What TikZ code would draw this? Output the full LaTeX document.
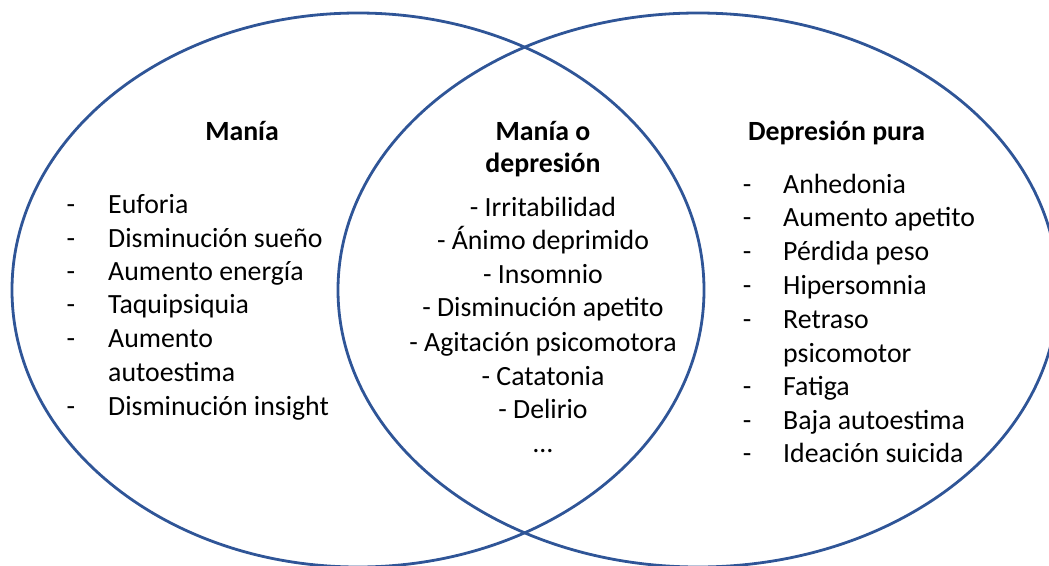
\documentclass[tikz,border=0pt]{standalone}
\usepackage{fontspec}
\setmainfont{Carlito}
\usetikzlibrary{shapes.geometric}
\definecolor{vennblue}{RGB}{47,85,151}
\begin{document}
\begin{tikzpicture}[x=1pt,y=-1pt,
  venn/.style={ellipse, draw=vennblue, line width=2.8pt, inner sep=0pt, outer sep=0pt,
    minimum width=692pt, minimum height=554pt},
  txt/.style={font=\fontsize{27.8}{33}\selectfont, inner sep=0pt, text=black},
  ttl/.style={font=\fontsize{27.8}{33}\selectfont\bfseries, inner sep=0pt, text=black},
  itemL/.style={txt, anchor=base west},
  itemC/.style={txt, anchor=base},
  dsh/.style={txt, anchor=base}]
\useasboundingbox (0,0) rectangle (1049,565);
\clip (0,0) rectangle (1049,565);
\node[venn] (left) at (358,290) {};
\node[venn, minimum width=720pt] (right) at (698,290) {};
% left
\node[ttl, anchor=base] (t1) at (242,140) {Manía};
\foreach \y/\t [count=\i] in {213/Euforia,247/Disminución sueño,280/Aumento energía,313/Taquipsiquia,347/Aumento,415/Disminución insight}{
  \node[dsh] (ld\i) at (71,\y) {-};
  \node[itemL] (l\i) at (108,\y) {\t};
}
\node[itemL] (l7) at (108,381) {autoestima};
% center
\node[ttl, anchor=base] (t2a) at (543,140) {Manía o};
\node[ttl, anchor=base] (t2b) at (543,172) {depresión};
\foreach \y/\t [count=\i] in {216/- Irritabilidad,249/- Ánimo deprimido,283/- Insomnio,316/- Disminución apetito,351/- Agitación psicomotora,385/- Catatonia,418/- Delirio}{
  \node[itemC] (c\i) at (543,\y) {\t};
}
\node[itemC] (c8) at (543,452) {…};
% right
\node[ttl, anchor=base west] (t3) at (748,140) {Depresión pura};
\foreach \y/\t [count=\i] in {193/Anhedonia,226/Aumento apetito,260/Pérdida peso,294/Hipersomnia,328/Retraso,395/Fatiga,429/Baja autoestima,462/Ideación suicida}{
  \node[dsh] (rd\i) at (747,\y) {-};
  \node[itemL] (r\i) at (783,\y) {\t};
}
\node[itemL] (r9) at (783,362) {psicomotor};
\end{tikzpicture}
\end{document}
